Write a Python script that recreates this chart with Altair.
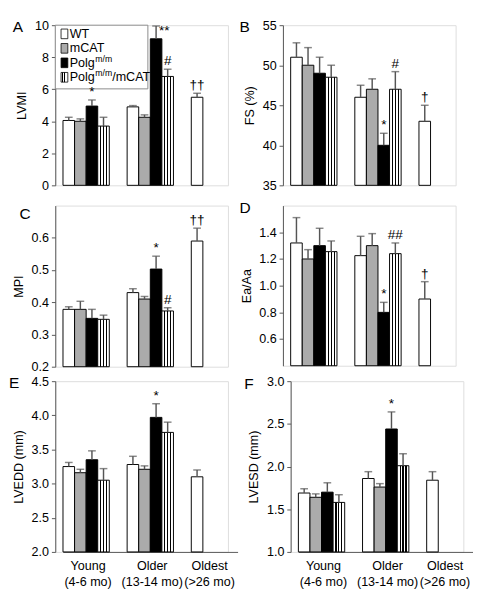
import altair as alt
import pandas as pd

# ---------------- data ----------------
groups = ["Young", "Older", "Oldest"]
group_line1 = ["Young", "Older", "Oldest"]
group_line2 = ["(4-6 mo)", "(13-14 mo)", "(>26 mo)"]
series = ["WT", "mCAT", "Polg", "PolgmCAT"]

bar_groups = ["Young"] * 4 + ["Older"] * 4 + ["Oldest"]
bar_series = series + series + ["WT"]

lvmi_mean = [4.05, 4.0, 4.95, 3.7, 4.9, 4.25, 9.15, 6.8, 5.5]
lvmi_err = [0.2, 0.15, 0.38, 0.55, 0.08, 0.15, 0.8, 0.45, 0.25]
lvmi_sig = ["", "", "*", "", "", "", "**", "#", "††"]

fs_mean = [51.0, 50.0, 49.0, 48.5, 46.0, 47.0, 40.0, 47.0, 43.0]
fs_err = [1.8, 2.2, 2.0, 1.5, 1.5, 1.3, 1.5, 2.2, 2.0]
fs_sig = ["", "", "", "", "", "", "*", "#", "†"]

mpi_mean = [0.378, 0.378, 0.35, 0.347, 0.43, 0.41, 0.503, 0.373, 0.59]
mpi_err = [0.008, 0.025, 0.028, 0.013, 0.012, 0.008, 0.04, 0.01, 0.04]
mpi_sig = ["", "", "", "", "", "", "*", "#", "††"]

eaaa_mean = [1.32, 1.2, 1.3, 1.255, 1.225, 1.3, 0.8, 1.24, 0.9]
eaaa_err = [0.19, 0.07, 0.13, 0.08, 0.145, 0.09, 0.075, 0.08, 0.13]
eaaa_sig = ["", "", "", "", "", "", "*", "##", "†"]

lvedd_mean = [3.25, 3.16, 3.35, 3.05, 3.28, 3.21, 3.97, 3.75, 3.1]
lvedd_err = [0.06, 0.05, 0.13, 0.17, 0.12, 0.05, 0.2, 0.15, 0.1]
lvedd_sig = ["", "", "", "", "", "", "*", "", ""]

lvesd_mean = [1.69, 1.64, 1.7, 1.58, 1.86, 1.76, 2.44, 2.01, 1.84]
lvesd_err = [0.05, 0.04, 0.11, 0.09, 0.08, 0.04, 0.2, 0.14, 0.1]
lvesd_sig = ["", "", "", "", "", "", "*", "", ""]

FONT = "Liberation Sans"
GREY = "#555555"


def stripe_stops(bands):
    stops = [{"offset": 0.0, "color": "white"}]
    for a, b in bands:
        stops += [{"offset": a, "color": "white"}, {"offset": a, "color": "black"},
                  {"offset": b, "color": "black"}, {"offset": b, "color": "white"}]
    stops.append({"offset": 1.0, "color": "white"})
    return stops


stripes = {"gradient": "linear", "x1": 0, "x2": 1, "y1": 0, "y2": 0,
           "stops": stripe_stops([(0.2, 0.3), (0.45, 0.55), (0.7, 0.8)])}
fills = {"WT": "white", "mCAT": "#ababab", "Polg": "black", "PolgmCAT": stripes}

label_expr = " : ".join(
    f"datum.value == '{g}' ? ['{a}', '{b}']" for g, a, b in zip(groups[:-1], group_line1[:-1], group_line2[:-1])
) + f" : ['{group_line1[-1]}', '{group_line2[-1]}']"

W = 179


def legend_layers():
    one = pd.DataFrame({"k": [0]})
    base = alt.Chart(one)
    layers = [
        base.mark_rect(fill="white", stroke="#888888", strokeWidth=1).encode(
            x=alt.value(0), x2=alt.value(96), y=alt.value(0), y2=alt.value(66))
    ]
    ys = [9, 24, 39, 54]
    for s, yy in zip(series, ys):
        layers.append(base.mark_rect(fill=fills[s], stroke="black", strokeWidth=0.8).encode(
            x=alt.value(6), x2=alt.value(13), y=alt.value(yy - 5), y2=alt.value(yy + 5)))
    tx = 15
    txt = dict(align="left", baseline="middle", font=FONT, fontSize=13, color="black")
    sup = dict(align="left", baseline="middle", font=FONT, fontSize=9, color="black")
    items = [("WT", tx, 9, txt), ("mCAT", tx, 24, txt),
             ("Polg", tx, 39, txt), ("m/m", tx + 26.5, 35, sup),
             ("Polg", tx, 54, txt), ("m/m", tx + 26.5, 50, sup), ("/mCAT", tx + 44, 54, txt)]
    for t, xx, yy, st in items:
        layers.append(alt.Chart(pd.DataFrame({"t": [t]})).mark_text(**st).encode(
            x=alt.value(xx), y=alt.value(yy), text="t:N"))
    return layers


def panel(letter, ytitle, means, errs, sigs, ydom, yvals, yfmt, height, bottom, lx, ly, legend=False):
    df = pd.DataFrame({"group": bar_groups, "series": bar_series, "mean": means,
                       "err": errs, "sig": sigs})
    df["top"] = df["mean"] + df["err"]
    df["side"] = ["right" if s == "**" else "top" for s in sigs]

    if bottom:
        xaxis = alt.Axis(title=None, labelAngle=0, ticks=False, domainColor=GREY,
                         labelExpr=label_expr, labelFont=FONT, labelFontSize=13,
                         labelColor="black", labelPadding=8, labelLineHeight=17,
                         labelOffset={"condition": {"test": "datum.value == 'Oldest'", "value": -5},
                                      "value": 2})
    else:
        xaxis = alt.Axis(title=None, labels=False, ticks=False, domain=False)
    x = alt.X("group:N", scale=alt.Scale(domain=groups, range=[8, 189], paddingInner=0.278,
                                         paddingOuter=0), axis=xaxis)
    xo = alt.XOffset("series:N", scale=alt.Scale(domain=series, paddingInner=0, paddingOuter=0))
    yscale = alt.Scale(domain=ydom, nice=False, zero=False)
    yaxis = alt.Axis(title=ytitle, values=yvals, format=yfmt, grid=False, tickSize=4,
                     tickColor=GREY, domainColor=GREY, labelFont=FONT, labelFontSize=13,
                     labelColor="black", titleFont=FONT, titleFontSize=13,
                     titleFontWeight="normal", titleColor="black", labelPadding=3,
                     titlePadding=6)

    base = alt.Chart(df).encode(x=x, xOffset=xo)
    layers = []
    for s in series:
        layers.append(base.transform_filter(alt.datum.series == s).mark_bar(
            fill=fills[s], stroke="black", strokeWidth=1).encode(
            y=alt.Y("mean:Q", scale=yscale, axis=yaxis), y2=alt.datum(ydom[0])))
    layers.append(base.mark_rule(color=GREY, strokeWidth=1.5).encode(
        y=alt.Y("mean:Q", scale=yscale, axis=yaxis), y2="top:Q"))
    layers.append(base.mark_tick(color=GREY, thickness=1.5, size=8).encode(
        y=alt.Y("top:Q", scale=yscale, axis=yaxis)))
    if legend:
        layers += legend_layers()
    layers.append(base.transform_filter("datum.sig != '' && datum.side == 'top'").mark_text(
        baseline="bottom", dy=-1, font=FONT, fontSize=14, color="black").encode(
        y=alt.Y("top:Q", scale=yscale, axis=yaxis), text="sig:N"))
    layers.append(base.transform_filter("datum.sig != '' && datum.side == 'right'").mark_text(
        align="left", baseline="middle", dx=3, dy=5, font=FONT, fontSize=14, color="black").encode(
        y=alt.Y("top:Q", scale=yscale, axis=yaxis), text="sig:N"))
    layers.append(alt.Chart(pd.DataFrame({"t": [letter]})).mark_text(
        align="left", baseline="middle", font=FONT, fontSize=16, color="black").encode(
        x=alt.value(lx), y=alt.value(ly), text="t:N"))
    return alt.layer(*layers).properties(width=W, height=height)


pA = panel("A", "LVMI", lvmi_mean, lvmi_err, lvmi_sig, [0, 10], [0, 2, 4, 6, 8, 10], "d",
           166, False, -44, 2, legend=True)
pB = panel("B", "FS (%)", fs_mean, fs_err, fs_sig, [35, 55], [35, 40, 45, 50, 55], "d",
           166, False, -45, 2)
pC = panel("C", "MPI", mpi_mean, mpi_err, mpi_sig, [0.2, 0.7], [0.2, 0.3, 0.4, 0.5, 0.6], ".1f",
           167, False, -37, 9)
pD = panel("D", "Ea/Aa", eaaa_mean, eaaa_err, eaaa_sig, [0.4, 1.6], [0.6, 0.8, 1.0, 1.2, 1.4],
           ".1f", 166, False, -45, 3)
pE = panel("E", "LVEDD (mm)", lvedd_mean, lvedd_err, lvedd_sig, [2.0, 4.5],
           [2.0, 2.5, 3.0, 3.5, 4.0, 4.5], ".1f", 177, True, -48, 2)
pF = panel("F", "LVESD (mm)", lvesd_mean, lvesd_err, lvesd_sig, [1.0, 3.0],
           [1.0, 1.5, 2.0, 2.5, 3.0], ".1f", 177, True, -48, 3)

row1 = alt.hconcat(pA, pB, spacing=8)
row2 = alt.hconcat(pC, pD, spacing=8)
row3 = alt.hconcat(pE, pF, spacing=8)
top2 = alt.vconcat(row1, row2, spacing=7)
chart = alt.vconcat(top2, row3, spacing=0).resolve_scale(
    x="independent", y="independent", xOffset="independent"
).configure_view(stroke=GREY, strokeWidth=1).configure(font=FONT).properties(
    padding={"left": 0, "right": 2, "top": 0, "bottom": 0})

chart.save("out.html", embed_options={"renderer": "svg", "actions": False})
